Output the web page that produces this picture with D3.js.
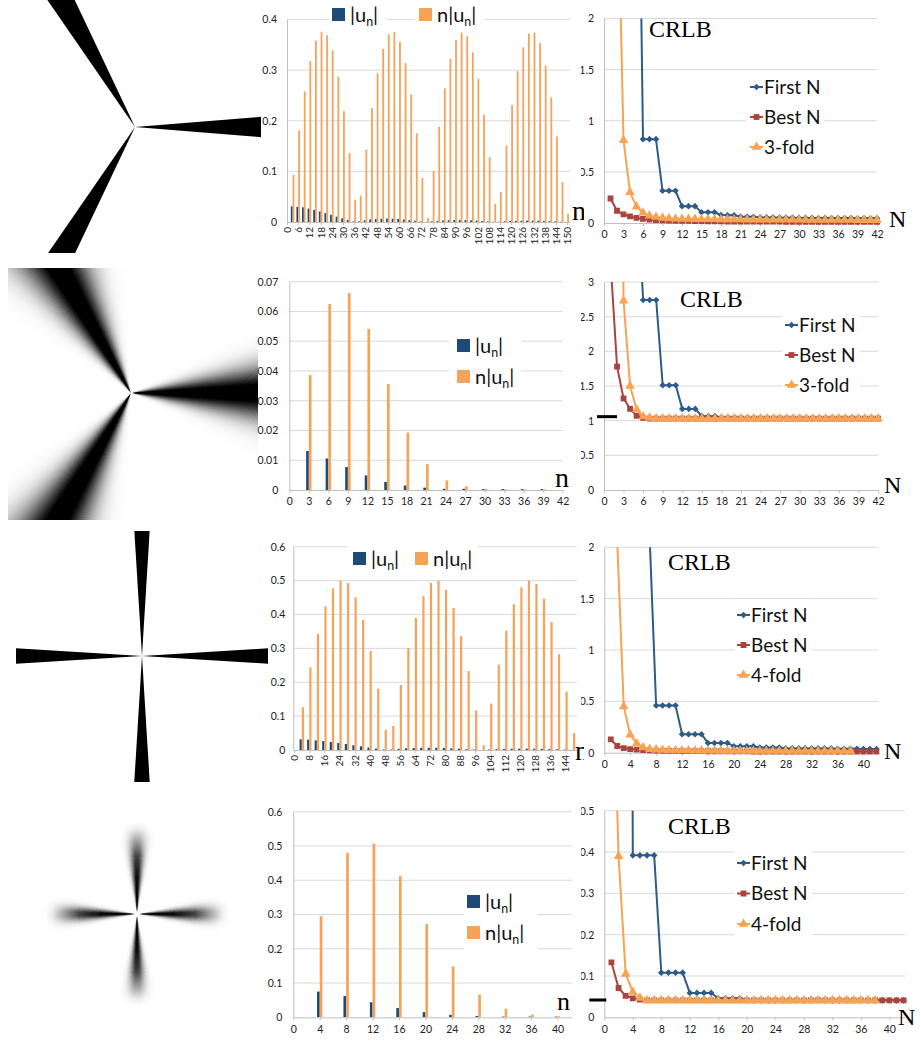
<!DOCTYPE html>
<html>
<head>
<meta charset="utf-8">
<script src="https://cdn.jsdelivr.net/npm/d3@7"></script>
<style>
  body { margin: 0; background: #fff; }
</style>
</head>
<body>
<div id="fig"></div>
<script>
// ---- data: Fourier coefficient bars (n, |u_n|, n|u_n|) ----
var n1 = d3.range(3, 151, 3);
var u1 = [0.031,0.030,0.029,0.0265,0.0239,0.0209,0.0176,0.0141,0.0106,0.0073,0.0041,0.0012,0.0013,0.0034,0.0050,0.0061,0.0067,0.0069,0.0066,0.0059,0.0050,0.0038,0.0025,0.0012,0.0001,0.0013,0.0023,0.0031,0.0037,0.0040,0.0040,0.0038,0.0034,0.0028,0.0020,0.0012,0.0003,0.0005,0.0013,0.0019,0.0024,0.0027,0.0029,0.0028,0.0026,0.0022,0.0017,0.0012,0.0005,0.0001];
var nu1 = [0.093,0.181,0.258,0.318,0.358,0.376,0.369,0.339,0.287,0.219,0.136,0.044,0.052,0.143,0.225,0.294,0.342,0.371,0.375,0.356,0.314,0.252,0.175,0.087,0.008,0.101,0.188,0.264,0.322,0.360,0.374,0.367,0.335,0.283,0.212,0.128,0.036,0.059,0.151,0.231,0.298,0.345,0.372,0.374,0.353,0.309,0.246,0.169,0.079,0.016];

var n2 = d3.range(3, 40, 3);
var u2 = [0.0131,0.0106,0.0077,0.0049,0.0027,0.0015,0.0008,0.0004,0.0004,0.0003,0.0003,0.0003,0.0003];
var nu2 = [0.0386,0.0625,0.0662,0.0541,0.0356,0.0193,0.0087,0.0032,0.0012,0.0004,0.0003,0.0002,0.0002];

var n3 = d3.range(4, 149, 4);
var u3 = [0.0315,0.0305,0.0286,0.0265,0.0239,0.0208,0.0176,0.0141,0.0107,0.0073,0.0041,0.0013,0.0014,0.0034,0.0050,0.0061,0.0067,0.0068,0.0066,0.0059,0.0050,0.0038,0.0025,0.0012,0.0001,0.0013,0.0023,0.0031,0.0037,0.0040,0.0040,0.0038,0.0034,0.0028,0.0020,0.0012,0.0003];
var nu3 = [0.126,0.244,0.343,0.424,0.477,0.500,0.492,0.451,0.384,0.292,0.181,0.060,0.071,0.192,0.301,0.390,0.455,0.493,0.499,0.473,0.419,0.336,0.233,0.117,0.014,0.137,0.252,0.352,0.430,0.480,0.500,0.490,0.447,0.378,0.283,0.172,0.050];

var n4 = d3.range(4, 41, 4);
var u4 = [0.075,0.062,0.044,0.027,0.015,0.007,0.004,0.002,0.002,0.002];
var nu4 = [0.295,0.480,0.507,0.413,0.272,0.148,0.066,0.025,0.008,0.003];

// ---- data: CRLB curves, N = 1..42 ----
var N = d3.range(1, 43);
var first1 = [null,null,null,null,5.5,0.82,0.82,0.82,0.315,0.315,0.315,0.165,0.165,0.165,0.105,0.105,0.105,0.078,0.075,0.075,0.062,0.060,0.060,0.055,0.055,0.055,0.052,0.052,0.052,0.050,0.050,0.050,0.049,0.049,0.049,0.048,0.048,0.048,0.047,0.047,0.047,0.047];
var best1 = [0.24,0.12,0.085,0.065,0.05,0.04,0.033,0.029,0.026,0.024,0.022,0.021,0.020,0.019,0.018,0.017,0.016,0.016,0.015,0.015,0.014,0.014,0.014,0.013,0.013,0.013,0.013,0.012,0.012,0.012,0.012,0.012,0.012,0.011,0.011,0.011,0.011,0.011,0.011,0.011,0.011,0.011];
var fold1 = [null,3.7,0.81,0.30,0.16,0.10,0.072,0.058,0.050,0.045,0.042,0.040,0.039,0.038,0.037,0.036,0.036,0.035,0.035,0.034,0.034,0.033,0.033,0.033,0.032,0.032,0.032,0.031,0.031,0.031,0.030,0.030,0.030,0.030,0.029,0.029,0.029,0.029,0.028,0.028,0.028,0.028];

var first2 = [null,null,null,null,4.5,2.74,2.74,2.74,1.51,1.51,1.51,1.17,1.17,1.17,1.065,1.065,1.065,1.045,1.045,1.045,1.035,1.035,1.035,1.035,1.035,1.035,1.035,1.035,1.035,1.035,1.035,1.035,1.035,1.035,1.035,1.035,1.035,1.035,1.035,1.035,1.035,1.035];
var best2 = [3.3,1.78,1.32,1.17,1.07,1.04,1.03,1.03,1.03,1.03,1.03,1.03,1.03,1.03,1.03,1.03,1.03,1.03,1.03,1.03,1.03,1.03,1.03,1.03,1.03,1.03,1.03,1.03,1.03,1.03,1.03,1.03,1.03,1.03,1.03,1.03,1.03,1.03,1.03,1.03,1.03,1.03];
var fold2 = [null,12,2.73,1.50,1.16,1.06,1.04,1.03,1.03,1.03,1.03,1.03,1.03,1.03,1.03,1.03,1.03,1.03,1.03,1.03,1.03,1.03,1.03,1.03,1.03,1.03,1.03,1.03,1.03,1.03,1.03,1.03,1.03,1.03,1.03,1.03,1.03,1.03,1.03,1.03,1.03,1.03];
var bound2 = 1.058;

var first3 = [null,null,null,null,null,null,2.1,0.46,0.46,0.46,0.46,0.18,0.18,0.18,0.18,0.095,0.095,0.095,0.095,0.062,0.062,0.062,0.062,0.05,0.05,0.05,0.05,0.042,0.042,0.042,0.042,0.042,0.042,0.042,0.042,0.038,0.038,0.038,0.038,0.035,0.035,0.035];
var best3 = [0.13,0.065,0.045,0.035,0.03,0.025,0.022,0.020,0.019,0.018,0.017,0.016,0.016,0.015,0.015,0.014,0.014,0.014,0.013,0.013,0.013,0.013,0.012,0.012,0.012,0.012,0.012,0.012,0.012,0.012,0.012,0.012,0.011,0.011,0.011,0.011,0.011,0.011,0.011,0.011,0.011,0.011];
var fold3 = [null,2.05,0.45,0.175,0.09,0.05,0.035,0.03,0.027,0.025,0.023,0.022,0.021,0.02,0.02,0.019,0.019,0.018,0.018,0.018,0.017,0.017,0.017,0.017,0.017,0.017,0.017,0.017,0.016,0.016,0.016,0.016,0.016,0.016,0.016,0.016,0.016,0.016,null,null,null,null];

var first4 = [null,null,5,0.392,0.392,0.392,0.392,0.108,0.108,0.108,0.108,0.059,0.059,0.059,0.059,0.046,0.046,0.046,0.046,0.041,0.041,0.041,0.041,0.041,0.041,0.041,0.041,0.041,0.041,0.041,0.041,0.041,0.041,0.041,0.041,0.041,0.041,0.041,0.041,0.041,0.041,0.041];
var best4 = [0.133,0.071,0.052,0.046,0.043,0.041,0.041,0.041,0.041,0.041,0.041,0.041,0.041,0.041,0.041,0.041,0.041,0.041,0.041,0.041,0.041,0.041,0.041,0.041,0.041,0.041,0.041,0.041,0.041,0.041,0.041,0.041,0.041,0.041,0.041,0.041,0.041,0.041,0.041,0.041,0.041,0.041];
var fold4 = [1.0,0.39,0.105,0.061,0.047,0.041,0.041,0.041,0.041,0.041,0.041,0.041,0.041,0.041,0.041,0.041,0.041,0.041,0.041,0.041,0.041,0.041,0.041,0.041,0.041,0.041,0.041,0.041,0.041,0.041,0.041,0.041,0.041,0.041,0.041,0.041,0.041,0.041,null,null,null,null];
var bound4 = 0.042;

// ---- styles ----
var blueBar = "#1f4a78", orangeBar = "#f6a35a";
var cFirst = "#2e5b87", cBest = "#a9443f", cFold = "#f7a351";
var tickFont = "Lato, 'Open Sans', sans-serif";
var serif = "'Liberation Serif', 'DejaVu Serif', serif";
var fmtY = d3.format("~g");

var svg = d3.select("#fig").append("svg")
    .attr("width", 921)
    .attr("height", 1046);
var defs = svg.append("defs");
var clipCount = 0;

function addClip(x, y, w, h) {
  var id = "clip" + (clipCount++);
  defs.append("clipPath").attr("id", id)
    .append("rect").attr("x", x).attr("y", y).attr("width", w).attr("height", h);
  return "url(#" + id + ")";
}

function styleAxis(a, fs) {
  a.attr("font-family", tickFont).attr("font-size", fs || 10.5);
  a.select(".domain").attr("stroke", "#bfbfbf");
  a.selectAll(".tick line").attr("stroke", "#bfbfbf");
  a.selectAll(".tick text").attr("fill", "#222");
}

// ---- star pictures on the left ----
function drawStar(p) {
  var g = svg.append("g").attr("clip-path", addClip(p.box[0], p.box[1], p.box[2], p.box[3]));
  var rad = Math.PI / 180;
  function pt(a, r) { return [p.cx + r * Math.cos(a * rad), p.cy - r * Math.sin(a * rad)]; }
  var fill = "#000";
  if (p.fade) {
    var gid = "fade" + (clipCount++);
    var rg = defs.append("radialGradient").attr("id", gid)
      .attr("gradientUnits", "userSpaceOnUse")
      .attr("cx", p.cx).attr("cy", p.cy).attr("r", p.r);
    p.fade.forEach(function(s) {
      rg.append("stop").attr("offset", s[0]).attr("stop-color", "#000").attr("stop-opacity", s[1]);
    });
    fill = "url(#" + gid + ")";
  }
  p.arms.forEach(function(a0) {
    if (!p.sigma) {
      g.append("path")
        .attr("d", "M" + [p.cx, p.cy] + "L" + pt(a0 - p.half, p.r) + "L" + pt(a0 + p.half, p.r) + "Z")
        .attr("fill", "#000");
      return;
    }
    // blurred arm: thin slices whose darkness falls off with angle
    for (var s = -p.span; s < p.span - 1e-9; s += p.step) {
      var m = s + p.step / 2;
      var dark = Math.min(1, p.gain * Math.exp(-m * m / (2 * p.sigma * p.sigma)));
      g.append("path")
        .attr("d", "M" + [p.cx, p.cy] + "L" + pt(a0 + s, p.r) + "L" + pt(a0 + s + p.step, p.r) + "Z")
        .attr("fill", fill)
        .attr("fill-opacity", dark)
        .attr("shape-rendering", "crispEdges");
    }
  });
}

// |u_n| style legend label
function unText(sel, prefix, fs) {
  sel.append("tspan").text(prefix + "|u");
  sel.append("tspan").attr("font-size", fs * 0.62).attr("dy", fs * 0.22).text("n");
  sel.append("tspan").attr("dy", -fs * 0.22).text("|");
}

// ---- bar chart panel ----
function drawBars(p) {
  var x = d3.scaleLinear().domain(p.xDomain).range(p.xRange);
  var y = d3.scaleLinear().domain(p.yDomain).range(p.yRange);
  var g = svg.append("g");

  g.selectAll("line.grid")
    .data(p.yTicks.slice(1))
    .enter().append("line")
      .attr("x1", p.xRange[0]).attr("x2", p.xRange[1])
      .attr("y1", function(d) { return y(d); })
      .attr("y2", function(d) { return y(d); })
      .attr("stroke", "#d9d9d9");

  var ya = g.append("g")
    .attr("transform", "translate(" + p.xRange[0] + ",0)")
    .call(d3.axisLeft(y).tickValues(p.yTicks).tickSize(0).tickPadding(p.yPad).tickFormat(fmtY));
  styleAxis(ya);

  g.selectAll("rect.u")
    .data(p.n)
    .enter().append("rect")
      .attr("x", function(d) { return x(d) - p.barW; })
      .attr("y", function(d, i) { return y(p.u[i]); })
      .attr("width", p.barW)
      .attr("height", function(d, i) { return Math.max(0.8, y(0) - y(p.u[i])); })
      .attr("fill", blueBar);

  g.selectAll("rect.nu")
    .data(p.n)
    .enter().append("rect")
      .attr("x", function(d) { return x(d); })
      .attr("y", function(d, i) { return y(p.nu[i]); })
      .attr("width", p.barW)
      .attr("height", function(d, i) { return Math.max(0.8, y(0) - y(p.nu[i])); })
      .attr("fill", orangeBar);

  var xa = g.append("g")
    .attr("transform", "translate(0," + y(0) + ")")
    .call(d3.axisBottom(x).tickValues(p.xTicks).tickSize(3).tickSizeOuter(0).tickPadding(5).tickFormat(d3.format("d")));
  styleAxis(xa, p.rotate ? 10 : 10.5);
  if (p.rotate) {
    xa.selectAll(".tick text")
      .attr("transform", "rotate(-90)")
      .attr("text-anchor", "end")
      .attr("x", -5).attr("y", 0).attr("dy", "0.35em");
  }

  // legend
  var L = p.legend;
  L.boxes.forEach(function(b) {
    g.append("rect").attr("x", b[0]).attr("y", b[1]).attr("width", b[2]).attr("height", b[3]).attr("fill", "#fff");
  });
  [[blueBar, ""], [orangeBar, "n"]].forEach(function(it, i) {
    var lx = L.x + i * L.dx, ly = L.y + i * L.dy;
    g.append("rect").attr("x", lx).attr("y", ly).attr("width", 13).attr("height", 13).attr("fill", it[0]);
    var t = g.append("text")
      .attr("x", lx + 18).attr("y", ly + 14)
      .attr("font-family", tickFont).attr("font-size", L.fs).attr("fill", "#111");
    unText(t, it[1], L.fs);
  });

  // axis name "n"
  svg.append("g").attr("clip-path", addClip(0, p.nLabel[1] - 30, 584, 40))
    .append("text")
      .attr("x", p.nLabel[0]).attr("y", p.nLabel[1])
      .attr("font-family", serif).attr("font-size", p.nLabel[2])
      .text("n");
}

// ---- CRLB line chart panel ----
function drawLines(p) {
  var x = d3.scaleLinear().domain(p.xDomain).range(p.xRange);
  var y = d3.scaleLinear().domain(p.yDomain).range(p.yRange);
  var g = svg.append("g").attr("clip-path", addClip(581, p.yRange[1] - 20, 340, p.yRange[0] - p.yRange[1] + 60));

  g.selectAll("line.grid")
    .data(p.yTicks.slice(1))
    .enter().append("line")
      .attr("x1", p.xRange[0]).attr("x2", p.xRange[1])
      .attr("y1", function(d) { return y(d); })
      .attr("y2", function(d) { return y(d); })
      .attr("stroke", "#d9d9d9");

  var ya = g.append("g")
    .attr("transform", "translate(" + p.xRange[0] + ",0)")
    .call(d3.axisLeft(y).tickValues(p.yTicks).tickSize(0).tickPadding(p.yPad).tickFormat(fmtY));
  styleAxis(ya);

  var xa = g.append("g")
    .attr("transform", "translate(0," + y(0) + ")")
    .call(d3.axisBottom(x).tickValues(p.xTicks).tickSize(3).tickSizeOuter(0).tickPadding(5).tickFormat(d3.format("d")));
  styleAxis(xa);

  // lower-bound dash next to the axis
  if (p.bound != null) {
    g.append("line")
      .attr("x1", p.xRange[0] + p.boundDx[0]).attr("x2", p.xRange[0] + p.boundDx[1])
      .attr("y1", y(p.bound)).attr("y2", y(p.bound))
      .attr("stroke", "#000").attr("stroke-width", 3);
  }

  var plot = g.append("g").attr("clip-path", addClip(p.xRange[0], p.yRange[1], 330, p.yRange[0] - p.yRange[1] + 10));
  var line = d3.line()
    .defined(function(d) { return d.v != null; })
    .x(function(d) { return x(d.n); })
    .y(function(d) { return y(d.v); });

  p.series.forEach(function(s) {
    var pts = N.map(function(n, i) { return { n: n, v: s.values[i] }; });
    plot.append("path").datum(pts)
      .attr("d", line)
      .attr("fill", "none").attr("stroke", s.color).attr("stroke-width", 2);
    plot.selectAll(null)
      .data(pts.filter(function(d) { return d.v != null; }))
      .enter().append("path")
        .attr("d", d3.symbol().type(s.symbol).size(s.size))
        .attr("transform", function(d) { return "translate(" + x(d.n) + "," + y(d.v) + ")rotate(" + (s.rot || 0) + ")"; })
        .attr("fill", s.color);
  });

  // legend
  var L = p.legend;
  g.append("rect").attr("x", L.box[0]).attr("y", L.box[1]).attr("width", L.box[2]).attr("height", L.box[3]).attr("fill", "#fff");
  p.series.forEach(function(s, i) {
    var ly = L.y + i * L.dy;
    g.append("line").attr("x1", L.x).attr("x2", L.x + 13).attr("y1", ly).attr("y2", ly)
      .attr("stroke", s.color).attr("stroke-width", 2);
    g.append("path").attr("d", d3.symbol().type(s.symbol).size(s.size))
      .attr("transform", "translate(" + (L.x + 6.5) + "," + ly + ")rotate(" + (s.rot || 0) + ")")
      .attr("fill", s.color);
    g.append("text").attr("x", L.x + 14).attr("y", ly).attr("dy", "0.36em")
      .attr("font-family", tickFont).attr("font-size", L.fs).attr("fill", "#111")
      .text(s.name);
  });

  g.append("text").attr("x", p.crlb[0]).attr("y", p.crlb[1])
    .attr("font-family", serif).attr("font-size", 24).text("CRLB");
  svg.append("text").attr("x", p.nName[0]).attr("y", p.nName[1])
    .attr("font-family", serif).attr("font-size", 24).text("N");
}

function seriesSet(first, best, fold, foldName) {
  return [
    { name: "First N", values: first, color: cFirst, symbol: d3.symbolSquare, size: 22, rot: 45 },
    { name: "Best N", values: best, color: cBest, symbol: d3.symbolSquare, size: 34 },
    { name: foldName, values: fold, color: cFold, symbol: d3.symbolTriangle, size: 40 }
  ];
}

// ---- row 1: sharp 3-fold star ----
drawStar({ box: [0, 0, 261, 253], cx: 135, cy: 127, arms: [0, 120, 240], half: 4.6, r: 400 });
drawBars({
  n: n1, u: u1, nu: nu1,
  xDomain: [0, 151.5], xRange: [287, 570], xTicks: d3.range(0, 151, 6), rotate: true,
  yDomain: [0, 0.4], yRange: [222, 19.5], yTicks: [0, 0.1, 0.2, 0.3, 0.4], yPad: 10,
  barW: 1.8,
  legend: { x: 332, y: 8, dx: 87, dy: 0, fs: 20, boxes: [[329, 4, 58, 26], [415, 4, 70, 26]] },
  nLabel: [572, 220, 28]
});
drawLines({
  xDomain: [0, 42], xRange: [604, 877], xTicks: d3.range(0, 43, 3),
  yDomain: [0, 2], yRange: [223, 18.5], yTicks: [0, 0.5, 1, 1.5, 2], yPad: 10,
  series: seriesSet(first1, best1, fold1, "3-fold"),
  legend: { x: 750, y: 87, dy: 30, fs: 19, box: [746, 74, 78, 88] },
  crlb: [649, 37], nName: [889, 227]
});

// ---- row 2: blurred 3-fold star ----
drawStar({ box: [8, 268, 250, 252], cx: 131, cy: 393, arms: [0, 120, 240], sigma: 8, gain: 1.12, span: 30, step: 0.4, r: 400 });
drawBars({
  n: n2, u: u2, nu: nu2,
  xDomain: [0, 42], xRange: [289.3, 562.7], xTicks: d3.range(0, 43, 3), rotate: false,
  yDomain: [0, 0.07], yRange: [490, 281.7], yTicks: [0, 0.01, 0.02, 0.03, 0.04, 0.05, 0.06, 0.07], yPad: 11,
  barW: 2.7,
  legend: { x: 457, y: 339, dx: 0, dy: 31, fs: 20, boxes: [[449, 331, 72, 62]] },
  nLabel: [555, 487, 28]
});
drawLines({
  xDomain: [0, 42], xRange: [604, 878], xTicks: d3.range(0, 43, 3),
  yDomain: [0, 3], yRange: [490, 282], yTicks: [0, 0.5, 1, 1.5, 2, 2.5, 3], yPad: 10,
  series: seriesSet(first2, best2, fold2, "3-fold"),
  bound: bound2, boundDx: [-7, 13],
  legend: { x: 785, y: 325, dy: 30, fs: 19, box: [782, 309, 78, 92] },
  crlb: [680, 307], nName: [884, 493]
});

// ---- row 3: sharp 4-fold star ----
drawStar({ box: [16, 531, 252, 251], cx: 142, cy: 656, arms: [0, 90, 180, 270], half: 3.5, r: 400 });
drawBars({
  n: n3, u: u3, nu: nu3,
  xDomain: [-0.5, 150], xRange: [293.3, 576.8], xTicks: d3.range(0, 145, 8), rotate: true,
  yDomain: [0, 0.6], yRange: [750, 546.7], yTicks: [0, 0.1, 0.2, 0.3, 0.4, 0.5, 0.6], yPad: 8,
  barW: 2.2,
  legend: { x: 353, y: 552, dx: 62, dy: 0, fs: 20, boxes: [[348, 541, 130, 32]] },
  nLabel: [575, 760, 28]
});
drawLines({
  xDomain: [0, 42.2], xRange: [604.3, 877.7], xTicks: d3.range(0, 41, 4),
  yDomain: [0, 2], yRange: [752.7, 547.3], yTicks: [0, 0.5, 1, 1.5, 2], yPad: 10,
  series: seriesSet(first3, best3, fold3, "4-fold"),
  legend: { x: 737, y: 615, dy: 30, fs: 19, box: [734, 599, 78, 92] },
  crlb: [668, 570], nName: [884, 759]
});

// ---- row 4: blurred 4-fold star ----
drawStar({ box: [0, 790, 270, 256], cx: 137, cy: 914, arms: [0, 90, 180, 270], sigma: 4.8, gain: 1.05, span: 22, step: 0.5, r: 92,
           fade: [[0, 1], [0.4, 0.95], [0.62, 0.75], [0.8, 0.35], [0.92, 0.08], [1, 0]] });
drawBars({
  n: n4, u: u4, nu: nu4,
  xDomain: [0, 42.2], xRange: [293.3, 572], xTicks: d3.range(0, 41, 4), rotate: false,
  yDomain: [0, 0.6], yRange: [1017.3, 811.7], yTicks: [0, 0.1, 0.2, 0.3, 0.4, 0.5, 0.6], yPad: 11,
  barW: 2.7,
  legend: { x: 467, y: 895, dx: 0, dy: 31, fs: 20, boxes: [[464, 886, 74, 66]] },
  nLabel: [557, 1010, 26]
});
drawLines({
  xDomain: [0, 42.2], xRange: [604.3, 905], xTicks: d3.range(0, 41, 4),
  yDomain: [0, 0.5], yRange: [1017.3, 810.7], yTicks: [0, 0.1, 0.2, 0.3, 0.4, 0.5], yPad: 10,
  series: seriesSet(first4, best4, fold4, "4-fold"),
  bound: bound4, boundDx: [-15, 2],
  legend: { x: 737, y: 863, dy: 30.5, fs: 19, box: [734, 847, 78, 94] },
  crlb: [668, 834], nName: [898, 1025]
});
</script>
</body>
</html>
